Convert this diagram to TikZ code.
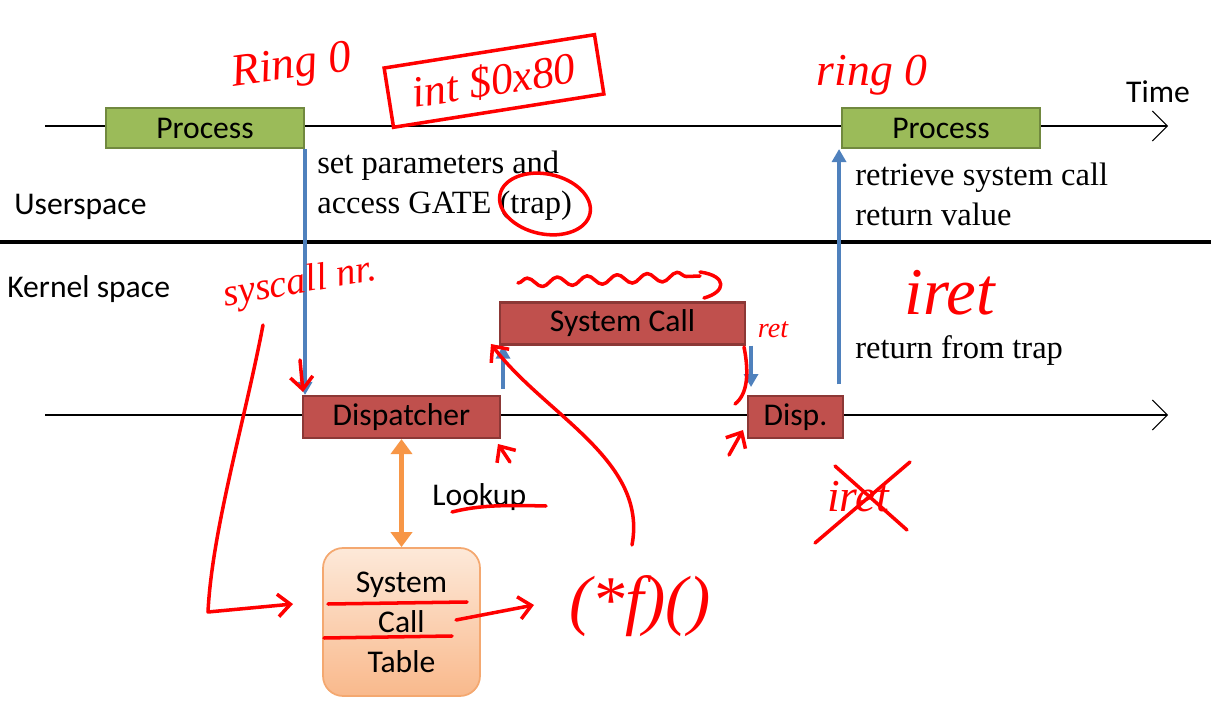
\documentclass[tikz,border=0pt]{standalone}
\usepackage{fontspec}
\setmainfont{Carlito}
\newfontfamily\slideserif{Liberation Serif}
\newfontfamily\scribblefont{Liberation Serif}
\usepackage{xcolor}
\usepackage{tikz}
\usetikzlibrary{shapes,arrows,positioning,calc,arrows.meta,decorations.pathmorphing}
\definecolor{procgreen}{HTML}{9BBB59}
\definecolor{procedge}{HTML}{71893F}
\definecolor{kred}{HTML}{C0504D}
\definecolor{kedge}{HTML}{8C3836}
\definecolor{callblue}{HTML}{4F81BD}
\definecolor{lookorange}{HTML}{F79646}
\definecolor{tabtop}{HTML}{FDE9D9}
\definecolor{tabbot}{HTML}{F9B98C}
\definecolor{tabedge}{HTML}{F4A870}
\newcommand{\slidesans}{\fontsize{18}{22.7}\selectfont}
\newcommand{\slidenote}{\slideserif\fontsize{18.5}{22.7}\selectfont}
\tikzstyle{process} = [rectangle, draw=procedge, fill=procgreen, line width=1.2pt, minimum width=3.96cm, minimum height=0.8cm, font=\slidesans]
\tikzstyle{kernel} = [rectangle, draw=kedge, fill=kred, line width=1.2pt, minimum height=0.84cm, font=\slidesans]
\tikzstyle{calltable} = [rectangle, rounded corners=0.4cm, draw=tabedge, top color=tabtop, bottom color=tabbot, line width=1pt, minimum width=3.14cm, minimum height=2.96cm, align=center, font=\slidesans]
\tikzstyle{label} = [anchor=west, inner sep=0pt, font=\slidesans]
\tikzstyle{note} = [anchor=west, font=\slidenote, align=left, inner sep=0pt]
\tikzstyle{timeline} = [-{Straight Barb[length=3mm,width=6mm]}, line width=0.6pt]
\tikzstyle{callarrow} = [-{Triangle[length=2.6mm,width=2.8mm]}, draw=callblue, line width=1.8pt]
\tikzstyle{lookarrow} = [{Triangle[length=3mm,width=4.2mm]}-{Triangle[length=3mm,width=4.2mm]}, draw=lookorange, line width=2.8pt]
\tikzstyle{ink} = [draw=red, line width=2pt, line cap=round, line join=round]
\tikzstyle{inkarrow} = [ink, -{Straight Barb[length=2.5mm,width=4.5mm]}]
\tikzstyle{inktext} = [text=red, inner sep=0pt, font=\scribblefont\itshape\fontsize{26}{28}\selectfont]
\begin{document}
\begin{tikzpicture}[x=0.02cm, y=-0.02cm]
    \useasboundingbox (0,0) rectangle (1211,709);

    % Time lines
    \coordinate (ustart) at (45,126);
    \coordinate (uend) at (1168,126);
    \coordinate (kstart) at (45,415);
    \coordinate (kend) at (1168,415);
    \draw[timeline] (ustart) -- (uend);
    \draw[timeline] (kstart) -- (kend);

    % Userspace / kernel space border
    \coordinate (sepl) at (0,242);
    \coordinate (sepr) at (1211,242);
    \draw[line width=1.8pt] (sepl) -- (sepr);

    % Labels
    \node[label] (user) at (14,207) {Userspace};
    \node[label] (kernel) at (7,289) {Kernel space};
    \node[font=\slidesans] (time) at (1158,92) {Time};

    % Process
    \node[process] (proc1) at (205,128) {Process};
    \node[process] (proc2) at (941,128) {Process};

    % Kernel side
    \node[kernel, minimum width=3.94cm] (disp) at (401.5,417) {Dispatcher};
    \node[kernel, minimum width=4.9cm] (syscall) at (622.5,323.5) {System Call};
    \node[kernel, minimum width=1.9cm] (disp2) at (795.5,417) {Disp.};
    \node[calltable] (table) at (401.5,622) {System\\Call\\Table};

    % Notes
    \node[note] (setparam) at (317,186) {set parameters and\\access GATE (trap)};
    \node[note] (retrieve) at (855,194) {retrieve system call\\return value};
    \node[note] (retfrom) at (855,351) {return from trap};
    \node[label] (lookup) at (432,497) {Lookup};

    % Arrows
    \draw[callarrow] (proc1.south east) -- (proc1.south east |- disp.north);
    \draw[callarrow, shorten <=3.4pt] ([xshift=0.04cm]disp.north east) -- ([xshift=0.04cm]disp.north east |- syscall.south);
    \draw[callarrow, shorten >=4.5pt] ([xshift=0.1cm]syscall.south east) -- ([xshift=0.1cm]syscall.south east |- disp2.north);
    \draw[callarrow, shorten <=6pt] ([xshift=-0.1cm]disp2.north east) -- ([xshift=-0.1cm]disp2.north east |- proc2.south);
    \draw[lookarrow] (disp) -- (table);

    % Handwriting
    \node[inktext, rotate=8] (ring0) at (292,68) {Ring 0};
    \node[inktext, rotate=9, draw=red, line width=2pt, minimum width=4.26cm, minimum height=1.2cm, font=\scribblefont\itshape\fontsize{25}{27}\selectfont] (intbox) at (494,81) {int \$0x80};
    \node[inktext] (ring0b) at (872,75) {ring 0};
    \draw[ink, rotate around={-12:(545,204)}] (545,204) ellipse [x radius=0.92cm, y radius=0.6cm];
    \node[inktext, rotate=10, font=\scribblefont\itshape\fontsize{22}{24}\selectfont] (sysnr) at (300,284) {syscall nr.};
    \draw[inkarrow] (300,360) -- (303,392);
    \draw[inkarrow] (263,325) .. controls (245,420) and (212,530) .. (208,612) -- (293,604);
    \draw[ink, decorate, decoration={snake, amplitude=0.9mm, segment length=6mm}] (518,283) -- (700,276);
    \draw[ink] (700,272) .. controls (728,276) and (726,292) .. (704,298);
    \node[inktext, font=\scribblefont\itshape\fontsize{16}{18}\selectfont] (ret) at (773,330) {ret};
    \draw[ink] (744,347) .. controls (749,372) and (748,394) .. (735,404);
    \node[inktext, font=\scribblefont\itshape\fontsize{38}{40}\selectfont] (iret) at (950,293) {iret};
    \node[inktext] (iretx) at (858,497) {iret};
    \draw[ink] (815,543) -- (910,462);
    \draw[ink] (835,466) -- (907,530);
    \draw[ink] (328,604) -- (467,602);
    \draw[ink] (324,638) -- (452,636);
    \draw[inkarrow] (456,620) -- (534,605);
    \node[inktext, font=\scribblefont\itshape\fontsize{38}{40}\selectfont] (fptr) at (640,606) {(*f)()};
    \draw[inkarrow] (632,545) .. controls (648,460) and (545,415) .. (491,344);
    \draw[inkarrow] (510,462) -- (498,444);
    \draw[inkarrow] (729,455) -- (743,430);
    \draw[ink] (452,512) .. controls (480,505) and (505,505) .. (546,506);
\end{tikzpicture}
\end{document}
